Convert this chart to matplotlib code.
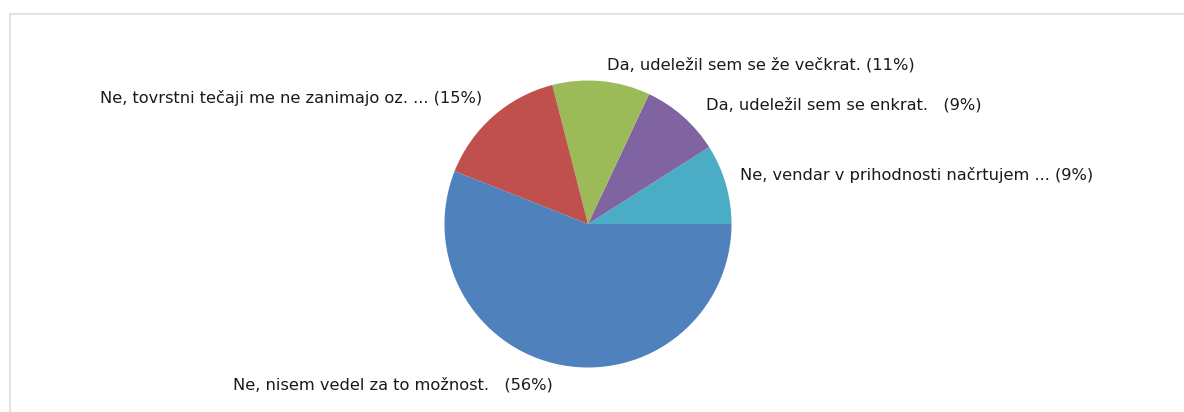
import matplotlib
matplotlib.use('Agg')
import matplotlib.pyplot as plt
from matplotlib.lines import Line2D

plt.rcParams['font.family'] = ['DejaVu Sans']

# odgovori, od vzhoda v nasprotni smeri urinega kazalca
labels = ['Ne, vendar v prihodnosti načrtujem ... (9%)',
          'Da, udeležil sem se enkrat.   (9%)',
          'Da, udeležil sem se že večkrat. (11%)',
          'Ne, tovrstni tečaji me ne zanimajo oz. ... (15%)',
          'Ne, nisem vedel za to možnost.   (56%)']
shares = [9, 9, 11, 15, 56]
colors = ['#4BACC6', '#8064A2', '#9BBB59', '#C0504D', '#4F81BD']

W, H = 1184, 412
fig = plt.figure(figsize=(W / 100, H / 100), dpi=100)

# svetlo siv okvir (zgoraj in levo)
fig.add_artist(Line2D([10 / W, 1], [1 - 14 / H, 1 - 14 / H], color='#e3e3e3', lw=1.5))
fig.add_artist(Line2D([10 / W, 10 / W], [0, 1 - 14 / H], color='#e3e3e3', lw=1.5))

cx, cy, r = 588, 224, 143.5
ax = fig.add_axes([(cx - r) / W, (H - cy - r) / H, 2 * r / W, 2 * r / H])
ax.pie(shares, colors=colors, startangle=0, counterclock=True, radius=1,
       wedgeprops=dict(linewidth=0))
ax.set_xlim(-1, 1)
ax.set_ylim(-1, 1)
ax.set_aspect('equal')
ax.axis('off')

# položaji oznak v pikslih (x, y, poravnava)
label_pos = [(740, 175, 'left'), (706, 105, 'left'), (607, 65, 'left'),
             (482, 98, 'right'), (553, 385, 'right')]
for lab, (x, y, ha) in zip(labels, label_pos):
    fig.text(x / W, 1 - y / H, lab, ha=ha, va='center', fontsize=11.7, color='#1a1a1a')

fig.savefig('out.png', dpi=100)
